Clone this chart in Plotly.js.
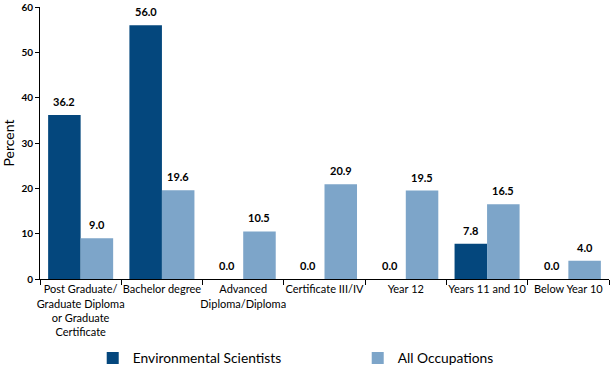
<!DOCTYPE html>
<html>
<head>
<meta charset="utf-8">
<script src="https://cdn.plot.ly/plotly-3.0.1.min.js"></script>
<style>html,body{margin:0;padding:0;background:#fff;}#chart{width:610px;height:369px;}</style>
</head>
<body>
<div id="chart"></div>
<script>
var categories = [
  "Post Graduate/<br>Graduate Diploma<br>or Graduate<br>Certificate",
  "Bachelor degree",
  "Advanced<br>Diploma/Diploma",
  "Certificate III/IV",
  "Year 12",
  "Years 11 and 10",
  "Below Year 10"
];
var envScientists = [36.2, 56.0, 0.0, 0.0, 0.0, 7.8, 0.0];
var allOccupations = [9.0, 19.6, 10.5, 20.9, 19.5, 16.5, 4.0];
var seriesNames = ["Environmental Scientists", "All Occupations"];
var yTicks = [0, 10, 20, 30, 40, 50, 60];

var FONT = "Lato, 'Open Sans', sans-serif";
var BARGAP = 0.2;
var halfBar = (1 - BARGAP) / 4; // offset of each bar centre within its group

function bar(name, vals, color) {
  return {
    type: "bar", name: name, x: categories, y: vals,
    marker: {color: color}, hoverinfo: "skip"
  };
}
var data = [
  bar(seriesNames[0], envScientists, "#04477D"),
  bar(seriesNames[1], allOccupations, "#7DA5C9")
];

var annotations = [];
[envScientists, allOccupations].forEach(function (vals, s) {
  vals.forEach(function (v, i) {
    annotations.push({
      x: i + (s === 0 ? -halfBar : halfBar), y: v, xref: "x", yref: "y",
      text: v.toFixed(1), showarrow: false, yanchor: "bottom", yshift: 5,
      font: {family: FONT, size: 11, color: "#000", weight: "bold"}
    });
  });
});

var layout = {
  width: 610, height: 369,
  margin: {l: 40, r: 1, t: 7, b: 90},
  paper_bgcolor: "#fff", plot_bgcolor: "#fff",
  barmode: "group", bargap: BARGAP, bargroupgap: 0,
  font: {family: FONT, size: 11, color: "#000"},
  annotations: annotations,
  xaxis: {
    showline: true, linecolor: "#000", linewidth: 1,
    ticks: "outside", tickson: "boundaries", ticklen: 5, tickcolor: "#000",
    tickangle: 0, automargin: false,
    tickfont: {family: FONT, size: 11, color: "#000"},
    showgrid: false, zeroline: false, fixedrange: true
  },
  yaxis: {
    range: [0, 60], tickvals: yTicks, ticktext: yTicks.map(String),
    showline: true, linecolor: "#000", linewidth: 1, automargin: false,
    ticks: "outside", ticklen: 4, tickcolor: "#000",
    tickfont: {family: FONT, size: 10, color: "#000", weight: "bold"},
    showgrid: false, zeroline: false,
    title: {text: "Percent", font: {family: FONT, size: 14, color: "#000"}, standoff: 8},
    fixedrange: true
  },
  showlegend: true,
  legend: {
    orientation: "h", xref: "container", yref: "container",
    x: 0.152, xanchor: "left", y: 0.03, yanchor: "middle",
    entrywidth: 220, entrywidthmode: "pixels",
    font: {family: FONT, size: 13.8, color: "#000"},
    traceorder: "normal", itemwidth: 30
  }
};
Plotly.newPlot("chart", data, layout, {displayModeBar: false, staticPlot: true});
</script>
</body>
</html>
